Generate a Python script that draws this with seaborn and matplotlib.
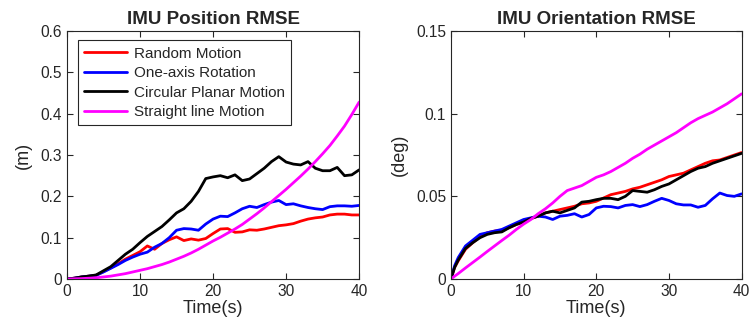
import numpy as np
import pandas as pd
import matplotlib
matplotlib.use("Agg")
import matplotlib.pyplot as plt
import seaborn as sns

# Datos
t_pos = list(range(0, 41))

pos_random = [0, 0.002, 0.005, 0.007, 0.009, 0.018, 0.027, 0.037, 0.048, 0.057,
              0.066, 0.080, 0.072, 0.086, 0.095, 0.102, 0.093, 0.097, 0.094, 0.098,
              0.110, 0.121, 0.122, 0.113, 0.114, 0.119, 0.118, 0.121, 0.125, 0.129,
              0.131, 0.134, 0.140, 0.145, 0.148, 0.150, 0.155, 0.157, 0.157, 0.155, 0.155]
pos_oneaxis = [0, 0.002, 0.005, 0.007, 0.009, 0.017, 0.026, 0.035, 0.045, 0.053,
               0.060, 0.065, 0.077, 0.086, 0.100, 0.118, 0.122, 0.121, 0.118, 0.133,
               0.145, 0.152, 0.151, 0.160, 0.170, 0.176, 0.173, 0.180, 0.186, 0.190,
               0.180, 0.182, 0.177, 0.173, 0.170, 0.168, 0.175, 0.177, 0.177, 0.176, 0.178]
pos_circular = [0, 0.002, 0.005, 0.007, 0.010, 0.020, 0.030, 0.045, 0.060, 0.072,
                0.088, 0.103, 0.115, 0.127, 0.143, 0.160, 0.170, 0.188, 0.212, 0.243,
                0.247, 0.250, 0.245, 0.252, 0.238, 0.242, 0.255, 0.268, 0.284, 0.296,
                0.283, 0.278, 0.276, 0.284, 0.268, 0.262, 0.262, 0.270, 0.250, 0.252, 0.264]
pos_straight = [0, 0.0005, 0.001, 0.002, 0.003, 0.005, 0.007, 0.010, 0.013, 0.017,
                0.021, 0.025, 0.030, 0.035, 0.041, 0.048, 0.055, 0.063, 0.072, 0.082,
                0.092, 0.101, 0.111, 0.121, 0.132, 0.145, 0.158, 0.172, 0.187, 0.202,
                0.217, 0.233, 0.249, 0.266, 0.284, 0.303, 0.323, 0.346, 0.370, 0.398, 0.428]

t_ori = [0, 0.5] + list(range(1, 41))

ori_random = [0, 0.007, 0.011, 0.018, 0.022, 0.0255, 0.028, 0.029, 0.0295, 0.031, 0.033,
              0.0345, 0.0365, 0.038, 0.040, 0.041, 0.042, 0.043, 0.044, 0.0455, 0.046,
              0.047, 0.049, 0.051, 0.052, 0.053, 0.0545, 0.0555, 0.057, 0.0585, 0.060,
              0.062, 0.063, 0.064, 0.066, 0.068, 0.070, 0.0715, 0.072, 0.0735, 0.075, 0.0765]
ori_oneaxis = [0, 0.008, 0.013, 0.020, 0.0235, 0.027, 0.028, 0.029, 0.030, 0.032, 0.034,
               0.036, 0.037, 0.038, 0.0375, 0.036, 0.038, 0.0385, 0.0395, 0.0375, 0.039,
               0.043, 0.044, 0.0438, 0.043, 0.0445, 0.045, 0.0438, 0.045, 0.047, 0.0488,
               0.0475, 0.0455, 0.0448, 0.0448, 0.0434, 0.0445, 0.0485, 0.052, 0.0505, 0.050, 0.0515]
ori_circular = [0, 0.007, 0.0115, 0.0185, 0.022, 0.025, 0.027, 0.028, 0.0285, 0.031, 0.033,
                0.0345, 0.0367, 0.038, 0.040, 0.041, 0.040, 0.0415, 0.043, 0.0465, 0.047,
                0.048, 0.0488, 0.0488, 0.048, 0.050, 0.0535, 0.053, 0.0525, 0.054, 0.056,
                0.0575, 0.060, 0.0625, 0.065, 0.067, 0.068, 0.070, 0.0715, 0.073, 0.0745, 0.076]
ori_straight = [0, 0.0017, 0.0033, 0.0067, 0.010, 0.0133, 0.0167, 0.020, 0.0233, 0.0265, 0.030,
                0.0332, 0.036, 0.0395, 0.0425, 0.046, 0.050, 0.0535, 0.055, 0.0565, 0.059,
                0.0615, 0.063, 0.065, 0.0675, 0.070, 0.073, 0.0755, 0.0785, 0.081, 0.0835,
                0.086, 0.0885, 0.0915, 0.0945, 0.097, 0.099, 0.101, 0.1035, 0.106, 0.109, 0.112]

labels = ["Random Motion", "One-axis Rotation", "Circular Planar Motion", "Straight line Motion"]
colors = ["#ff0000", "#0000ff", "#000000", "#ff00ff"]

sns.set_style("ticks")
plt.rcParams['font.family'] = ['Liberation Sans', 'DejaVu Sans']
plt.rcParams['axes.edgecolor'] = '#262626'
plt.rcParams['xtick.color'] = '#262626'
plt.rcParams['ytick.color'] = '#262626'

fig = plt.figure(figsize=(7.51, 3.32), dpi=100)
ax1 = fig.add_axes([0.0892, 0.1596, 0.389, 0.747])
ax2 = fig.add_axes([0.6005, 0.1596, 0.387, 0.747])

for vals, lab, col in zip([pos_random, pos_oneaxis, pos_circular, pos_straight], labels, colors):
    sns.lineplot(x=t_pos, y=vals, ax=ax1, color=col, linewidth=2.0, label=lab)
for vals, col in zip([ori_random, ori_oneaxis, ori_circular, ori_straight], colors):
    sns.lineplot(x=t_ori, y=vals, ax=ax2, color=col, linewidth=2.0)

for ax, ymax, yt, ylab, title in [
        (ax1, 0.6, [0, 0.1, 0.2, 0.3, 0.4, 0.5, 0.6], '(m)', 'IMU Position RMSE'),
        (ax2, 0.15, [0, 0.05, 0.1, 0.15], '(deg)', 'IMU Orientation RMSE')]:
    ax.set_xlim(0, 40)
    ax.set_ylim(0, ymax)
    ax.set_xticks([0, 10, 20, 30, 40])
    ax.set_yticks(yt)
    ax.set_yticklabels([f"{v:g}" for v in yt])
    ax.tick_params(direction='in', length=4, width=0.8, labelsize=11.2,
                   top=True, right=True, labelcolor='#262626')
    for sp in ax.spines.values():
        sp.set_visible(True)
        sp.set_linewidth(0.8)
    ax.set_xlabel('Time(s)', fontsize=13, color='#262626', labelpad=1)
    ax.set_ylabel(ylab, fontsize=13, color='#262626', labelpad=6)
    ax.set_title(title, fontsize=13.5, fontweight='bold', pad=5)

leg = ax1.legend(loc='upper left', bbox_to_anchor=(0.038, 0.962), fontsize=11,
                 frameon=True, fancybox=False, edgecolor='#262626', framealpha=1,
                 handlelength=2.8, labelspacing=0.36, borderpad=0.4, handletextpad=0.45,
                 borderaxespad=0)
leg.get_frame().set_linewidth(0.8)
if ax2.get_legend() is not None:
    ax2.get_legend().remove()

fig.savefig("out.png", dpi=100)
